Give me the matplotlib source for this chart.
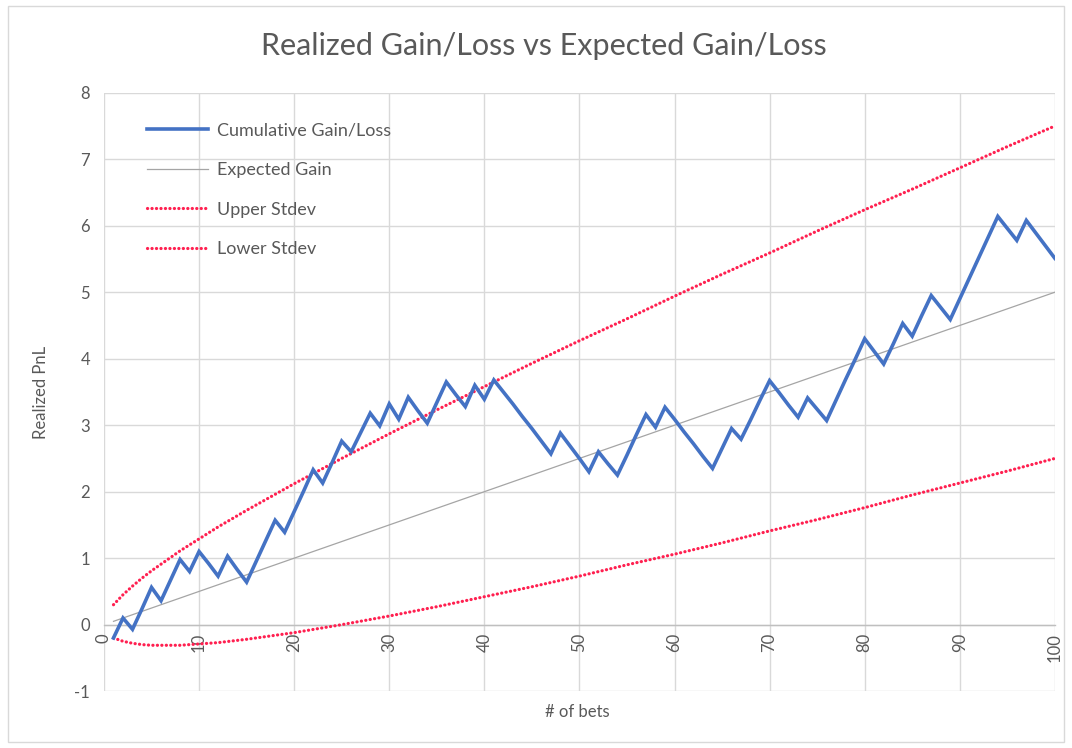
import matplotlib
matplotlib.use("Agg")
import matplotlib.pyplot as plt
from matplotlib.patches import Rectangle

plt.rcParams['font.family'] = ['Lato', 'DejaVu Sans']
plt.rcParams['axes.unicode_minus'] = False

TEXT_COLOR = "#595959"
GRID_COLOR = "#d9d9d9"

# Datos
bets = list(range(1, 101))
cumulative = [
    -0.20, 0.10, -0.07, 0.24, 0.56, 0.36, 0.67, 0.98, 0.80, 1.10,
    0.92, 0.73, 1.03, 0.83, 0.64, 0.95, 1.26, 1.57, 1.39, 1.70,
    2.01, 2.33, 2.13, 2.44, 2.76, 2.60, 2.89, 3.18, 2.99, 3.32,
    3.09, 3.42, 3.22, 3.03, 3.34, 3.65, 3.46, 3.28, 3.60, 3.39,
    3.68, 3.50, 3.32, 3.13, 2.95, 2.76, 2.57, 2.88, 2.69, 2.50,
    2.30, 2.60, 2.42, 2.25, 2.55, 2.86, 3.16, 2.97, 3.27, 3.09,
    2.90, 2.72, 2.53, 2.35, 2.65, 2.95, 2.79, 3.08, 3.38, 3.67,
    3.49, 3.30, 3.12, 3.41, 3.24, 3.07, 3.38, 3.69, 3.99, 4.30,
    4.11, 3.92, 4.22, 4.53, 4.34, 4.65, 4.95, 4.77, 4.59, 4.90,
    5.21, 5.52, 5.83, 6.14, 5.96, 5.78, 6.08, 5.89, 5.70, 5.51,
]

expected_x = [1, 100]
expected_y = [0.05, 5.00]

stdev_x = [1, 2, 3, 4, 5, 6, 8, 10, 12, 15, 20, 25, 30, 35, 40, 45, 50,
           55, 60, 65, 70, 75, 80, 85, 90, 95, 100]
upper_stdev = [0.30, 0.45, 0.58, 0.70, 0.81, 0.91, 1.11, 1.29, 1.47, 1.72,
               2.12, 2.50, 2.87, 3.23, 3.58, 3.93, 4.27, 4.60, 4.94, 5.27,
               5.59, 5.92, 6.24, 6.55, 6.87, 7.19, 7.50]
lower_stdev = [-0.20, -0.25, -0.28, -0.30, -0.31, -0.31, -0.31, -0.29, -0.27,
               -0.22, -0.12, 0.00, 0.13, 0.27, 0.42, 0.57, 0.73, 0.90, 1.06,
               1.23, 1.41, 1.58, 1.76, 1.95, 2.13, 2.31, 2.50]

x_ticks = list(range(0, 101, 10))
y_ticks = list(range(-1, 9))

fig = plt.figure(figsize=(10.72, 7.48), dpi=100)
ax = fig.add_axes([0.097, 0.076, 0.887, 0.800])

dot_style = (0, (0.05, 1.35))
ax.plot(bets, cumulative, color="#4472c4", lw=2.6, label="Cumulative Gain/Loss",
        solid_joinstyle="miter", zorder=4)
ax.plot(expected_x, expected_y, color="#a5a5a5", lw=0.9, label="Expected Gain", zorder=3)
ax.plot(stdev_x, upper_stdev, color="#ff2050", lw=2.3, linestyle=dot_style,
        dash_capstyle="round", label="Upper Stdev", zorder=3)
ax.plot(stdev_x, lower_stdev, color="#ff2050", lw=2.3, linestyle=dot_style,
        dash_capstyle="round", label="Lower Stdev", zorder=3)

ax.set_xlim(0, 100)
ax.set_ylim(-1, 8)
ax.set_xticks(x_ticks)
ax.set_yticks(y_ticks)
ax.grid(True, color=GRID_COLOR, lw=1.0)
ax.set_axisbelow(True)

for side in ["top", "right", "left"]:
    ax.spines[side].set_visible(False)
ax.spines["bottom"].set_position(("data", 0))
ax.spines["bottom"].set_color("#bfbfbf")
ax.spines["bottom"].set_linewidth(1.0)

ax.tick_params(axis="both", length=0, labelsize=12, labelcolor=TEXT_COLOR)
ax.tick_params(axis="x", pad=6, labelrotation=90)
ax.tick_params(axis="y", pad=10)

ax.set_ylabel("Realized PnL", fontsize=12, color=TEXT_COLOR, labelpad=18)
fig.text(0.539, 0.048, "# of bets", fontsize=12, color=TEXT_COLOR,
         ha="center", va="center")
fig.text(0.507, 0.938, "Realized Gain/Loss vs Expected Gain/Loss", fontsize=22,
         color=TEXT_COLOR, ha="center", va="center")

leg = ax.legend(loc="upper left", bbox_to_anchor=(0.028, 0.977), frameon=False,
                fontsize=13, handlelength=3.4, labelspacing=1.3, handletextpad=0.5)
for t in leg.get_texts():
    t.set_color(TEXT_COLOR)

fig.patches.append(Rectangle((0.007, 0.008), 0.986, 0.984, transform=fig.transFigure,
                             fill=False, edgecolor=GRID_COLOR, lw=1.0))

fig.savefig("out.png", dpi=100)
